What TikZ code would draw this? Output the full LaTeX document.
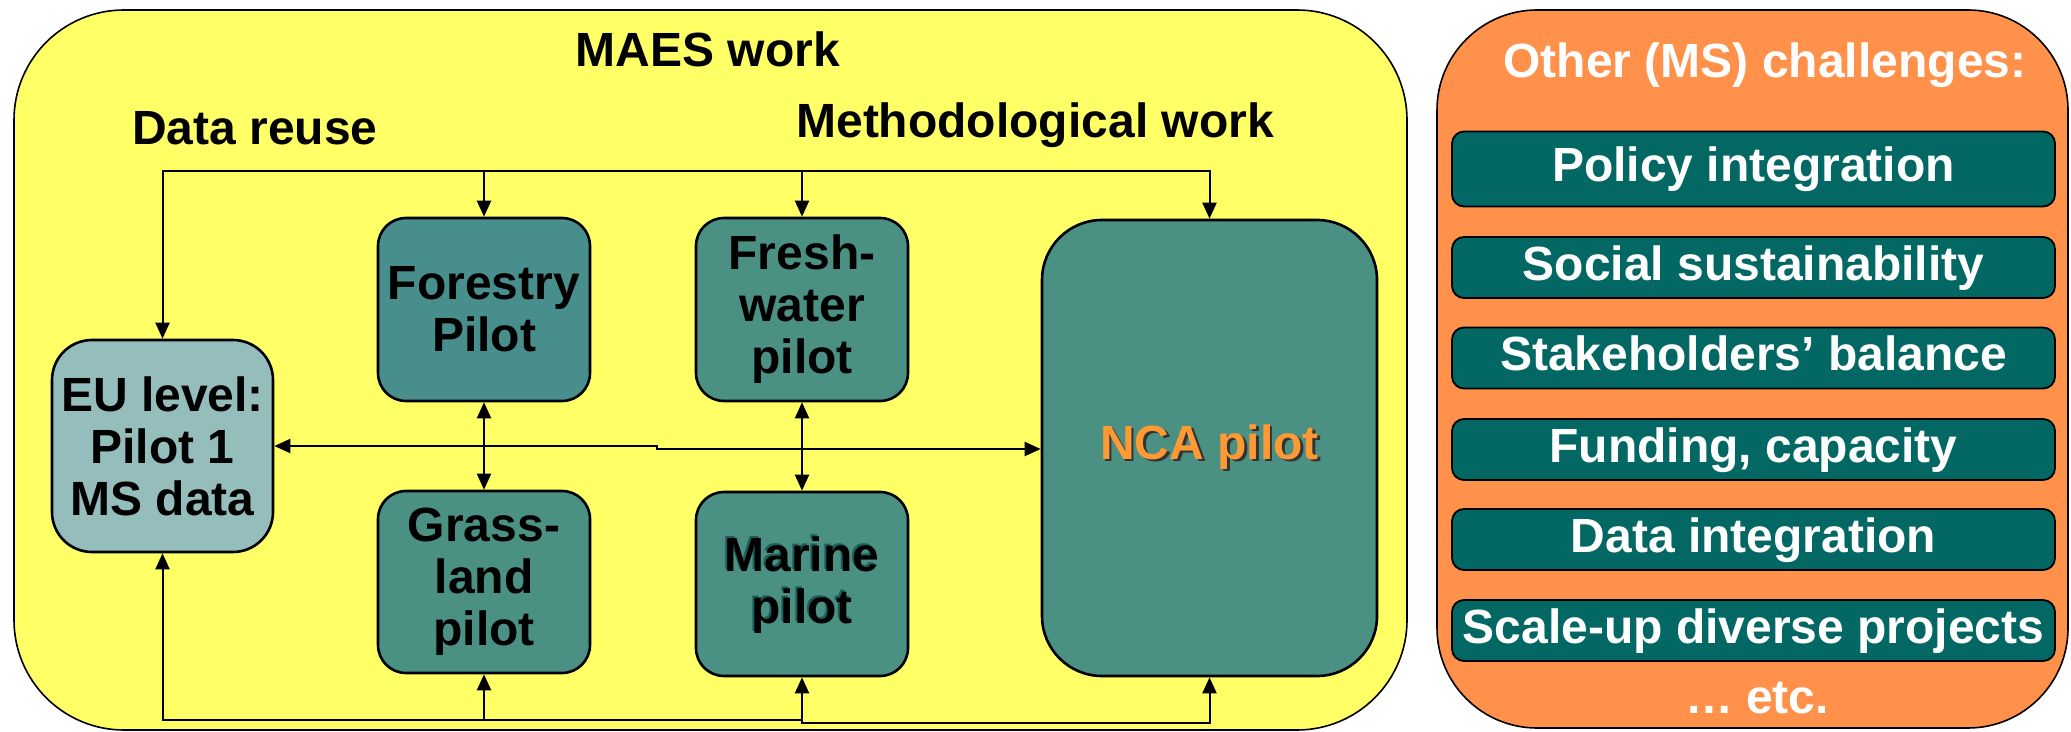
\documentclass[tikz,border=0pt]{standalone}
\usepackage{fontspec}
\setmainfont{Liberation Sans}
\usetikzlibrary{arrows.meta}
\definecolor{ylw}{HTML}{FFFF66}
\definecolor{org}{HTML}{FF914A}
\definecolor{tealA}{HTML}{488E8C}
\definecolor{tealB}{HTML}{4A9183}
\definecolor{eublue}{HTML}{95BDBC}
\definecolor{itemteal}{HTML}{036864}
\definecolor{ncaorange}{HTML}{FF9933}
\definecolor{shteal}{HTML}{1F5E58}
\newcommand\bigfont{\fontsize{24}{26}\selectfont\bfseries}
\newcommand\shadowtext[5]{\leavevmode\rlap{\hspace*{#1}\raisebox{#2}{\textcolor{#4}{#5}}}\textcolor{#3}{#5}}
\tikzset{
  panel/.style={draw=black, line width=0.8pt, inner sep=0pt},
  pilot/.style={draw=black, line width=1.3pt, rounded corners=14pt, fill=tealB,
    align=center, font=\bigfont, inner sep=0pt, minimum width=106pt},
  item/.style={draw=black, line width=0.9pt, rounded corners=6pt, fill=itemteal,
    text=white, font=\bigfont, inner sep=0pt, minimum width=301.5pt,
    minimum height=30.5pt, text height=17pt, text depth=4pt},
  title/.style={font=\bigfont, anchor=base, inner sep=0pt},
  conn/.style={draw=black, line width=1pt},
  arr/.style={conn, -{Triangle[length=8pt,width=7pt]}},
  arr2/.style={conn, {Triangle[length=8pt,width=7pt]}-{Triangle[length=8pt,width=7pt]}}
}
\begin{document}
\begin{tikzpicture}[x=0.5pt,y=-0.5pt]
\useasboundingbox (0,0) rectangle (2071,732);
% panels
\node[panel, fill=ylw, rounded corners=55pt, minimum width=696.5pt, minimum height=360pt] (maes) at (710.5,370) {};
\node[panel, fill=org, rounded corners=50pt, minimum width=315.5pt, minimum height=359pt] (other) at (1752.5,369) {};
% titles
\node[title] (maestitle) at (708,67) {MAES work};
\node[title] (datareuse) at (255,145) {Data reuse};
\node[title] (method) at (1035,138) {Methodological work};
\node[title, text=white] (othertitle) at (1765,78) {Other (MS) challenges:};
\node[title, text=white] (etc) at (1757,713) {… etc.};
% pilot boxes
\node[pilot, fill=tealA, minimum height=91.5pt] (forestry) at (484,309.5) {Forestry\\Pilot};
\node[pilot, minimum height=91.5pt] (fresh) at (802,309.5) {Fresh-\\water\\pilot};
\node[pilot, minimum height=91pt] (grass) at (484,582) {Grass-\\land\\pilot};
\node[pilot, minimum height=92pt] (marine) at (802,584)
  {\shadowtext{-1pt}{1pt}{black}{shteal}{Marine}\\\shadowtext{-1pt}{1pt}{black}{shteal}{pilot}};
\node[pilot, fill=eublue, rounded corners=20pt, minimum width=110.5pt, minimum height=106pt] (eu) at (162.5,446) {EU level:\\Pilot 1\\MS data};
\node[pilot, rounded corners=30pt, minimum width=167.5pt, minimum height=228pt] (nca) at (1209.5,448)
  {\shadowtext{1.3pt}{-1.3pt}{ncaorange}{black!80}{NCA pilot}};
% items
\node[item, minimum height=37.5pt] (policy) at (1753.5,169) {Policy integration};
\node[item] (social) at (1753.5,267.5) {Social sustainability};
\node[item] (stake) at (1753.5,358) {Stakeholders’ balance};
\node[item] (fund) at (1753.5,449.5) {Funding, capacity};
\node[item] (dataint) at (1753.5,539.5) {Data integration};
\node[item] (scale) at (1753.5,630.5) {Scale-up diverse projects};
% connectors
\coordinate (topbar) at (0,171);
\coordinate (botbar) at (0,720);
\coordinate (botbar2) at (0,723);
\coordinate (jog) at (657,446);
\coordinate (jog2) at (657,449);
\draw[arr2] (eu.north) -- (eu.north |- topbar) -- (nca.north |- topbar) -- (nca.north);
\draw[arr] (forestry.north |- topbar) -- (forestry.north);
\draw[arr] (fresh.north |- topbar) -- (fresh.north);
\draw[arr2] (eu.south) -- (eu.south |- botbar) -- (marine.south |- botbar) -- (marine.south |- botbar2) -- (nca.south |- botbar2) -- (nca.south);
\draw[arr] (grass.south |- botbar) -- (grass.south);
\draw[arr] (marine.south |- botbar) -- (marine.south);
\draw[arr2] (eu.east) -- (jog) -- (jog2) -- (nca.west |- jog2);
\draw[arr2] (forestry.south) -- (grass.north);
\draw[arr2] (fresh.south) -- (marine.north);
\end{tikzpicture}
\end{document}
